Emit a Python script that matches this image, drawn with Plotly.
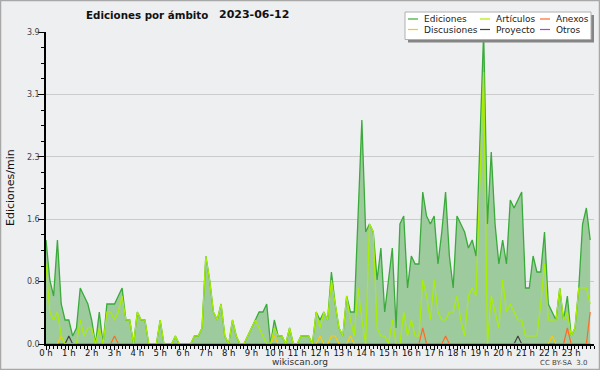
import plotly.graph_objects as go

# 10-minute bins over the day (minutes since 00:00)
minutes = list(range(0, 1440, 10))

hour_ticks = list(range(0, 1440, 60))
hour_labels = ["0 h", "1 h", "2 h", "3 h", "4 h", "5 h", "6 h", "7 h", "8 h", "9 h", "10 h", "11 h",
               "12 h", "13 h", "14 h", "15 h", "16 h", "17 h", "18 h", "19 h", "20 h", "21 h", "22 h", "23 h"]

y_ticks = [0, 0.78, 1.56, 2.34, 3.12, 3.9]
y_labels = ["0.0", "0.8", "1.6", "2.3", "3.1", "3.9"]

ediciones = [
    1.3, 0.8, 0.6, 1.3, 0.5, 0.3, 0.3, 0.1, 0.2, 0.7, 0.6, 0.5,
    0.3, 0.0, 0.4, 0.0, 0.5, 0.5, 0.5, 0.6, 0.7, 0.3, 0.3, 0.0,
    0.4, 0.3, 0.3, 0.0, 0.0, 0.0, 0.3, 0.0, 0.0, 0.0, 0.1, 0.0,
    0.0, 0.0, 0.0, 0.1, 0.1, 0.2, 1.1, 0.8, 0.4, 0.3, 0.5, 0.1,
    0.0, 0.3, 0.1, 0.0, 0.0, 0.1, 0.2, 0.3, 0.4, 0.4, 0.5, 0.0,
    0.3, 0.1, 0.1, 0.0, 0.2, 0.0, 0.0, 0.1, 0.1, 0.1, 0.0, 0.4,
    0.3, 0.4, 0.3, 0.9, 0.5, 0.2, 0.1, 0.6, 0.4, 0.4, 1.6, 2.8,
    1.4, 1.5, 1.4, 0.8, 1.2, 0.4, 0.8, 1.2, 0.2, 1.5, 1.6, 0.7,
    1.1, 1.0, 1.0, 1.9, 1.6, 1.5, 1.6, 1.0, 1.4, 1.9, 1.1, 0.7,
    1.6, 1.5, 1.4, 1.2, 1.3, 1.1, 2.5, 3.9, 1.5, 2.4, 1.5, 1.0,
    1.3, 1.0, 1.8, 1.7, 1.8, 1.9, 0.7, 0.7, 1.1, 0.9, 0.9, 1.4,
    0.5, 0.4, 0.3, 0.7, 0.3, 0.6, 0.1, 0.2, 0.7, 1.5, 1.7, 1.3,
]

articulos = [
    1.0, 0.4, 0.3, 0.4, 0.1, 0.0, 0.0, 0.0, 0.0, 0.3, 0.1, 0.2,
    0.2, 0.0, 0.2, 0.0, 0.4, 0.4, 0.3, 0.4, 0.6, 0.3, 0.3, 0.0,
    0.4, 0.3, 0.3, 0.0, 0.0, 0.0, 0.3, 0.0, 0.0, 0.0, 0.1, 0.0,
    0.0, 0.0, 0.0, 0.1, 0.1, 0.2, 1.1, 0.8, 0.4, 0.3, 0.5, 0.1,
    0.0, 0.3, 0.1, 0.0, 0.0, 0.1, 0.2, 0.3, 0.2, 0.1, 0.0, 0.0,
    0.2, 0.1, 0.1, 0.0, 0.2, 0.0, 0.0, 0.1, 0.1, 0.1, 0.0, 0.4,
    0.2, 0.4, 0.3, 0.8, 0.5, 0.2, 0.1, 0.6, 0.3, 0.1, 0.7, 0.3,
    0.0, 1.5, 1.4, 0.2, 0.1, 0.1, 0.0, 0.3, 0.0, 0.0, 0.4, 0.1,
    0.3, 0.1, 0.1, 0.8, 0.6, 0.3, 0.8, 0.4, 0.3, 0.3, 0.4, 0.4,
    0.6, 0.3, 0.1, 0.6, 0.7, 0.6, 2.0, 3.4, 0.0, 0.6, 0.4, 0.2,
    0.8, 0.4, 0.5, 0.4, 0.3, 0.3, 0.1, 0.1, 0.1, 0.1, 0.5, 1.0,
    0.3, 0.3, 0.3, 0.7, 0.3, 0.4, 0.1, 0.2, 0.7, 0.7, 0.7, 0.5,
]

# sparse series: all zero except the listed bins (index -> value)
discusiones_pts = {4: 0.1, 60: 0.1, 72: 0.1, 75: 0.1, 76: 0.1, 80: 0.1, 133: 0.1}
proyecto_pts = {6: 0.1, 124: 0.1}
anexos_pts = {18: 0.1, 99: 0.2, 105: 0.1, 137: 0.2, 143: 0.4}
otros_pts = {}

discusiones = [discusiones_pts.get(i, 0.0) for i in range(len(minutes))]
proyecto = [proyecto_pts.get(i, 0.0) for i in range(len(minutes))]
anexos = [anexos_pts.get(i, 0.0) for i in range(len(minutes))]
otros = [otros_pts.get(i, 0.0) for i in range(len(minutes))]

colors = {
    "Ediciones": "#3aaa3a",
    "Artículos": "#aaee00",
    "Anexos": "#ff6a2a",
    "Discusiones": "#ffc800",
    "Proyecto": "#444444",
    "Otros": "#9a4ae8",
}

BG = "#eeeff1"

fig = go.Figure()
fig.add_trace(go.Scatter(x=minutes, y=ediciones, mode="lines", fill="tozeroy",
                         fillcolor="#9ecb9e", line=dict(color=colors["Ediciones"], width=1.3),
                         name="Ediciones", showlegend=False))
for name, vals in [("Otros", otros), ("Proyecto", proyecto), ("Discusiones", discusiones),
                   ("Artículos", articulos), ("Anexos", anexos)]:
    fig.add_trace(go.Scatter(x=minutes, y=vals, mode="lines",
                             line=dict(color=colors[name], width=1.2),
                             name=name, showlegend=False))

# pixel -> paper helpers (plot area: x 46..594, y 32..344)
L, R, T, B = 46, 594, 32, 344
def px(x):
    return (x - L) / (R - L)
def py(y):
    return (B - y) / (B - T)

shapes = []
annotations = []

# outer frame
shapes.append(dict(type="rect", xref="paper", yref="paper",
                   x0=px(0.5), x1=px(599.5), y0=py(0.5), y1=py(369.5),
                   line=dict(color="#a8a8a8", width=1.5), fillcolor="rgba(0,0,0,0)", layer="above"))

# legend box with shadow
shapes.append(dict(type="rect", xref="paper", yref="paper", x0=px(408), x1=px(594), y0=py(15), y1=py(42.5),
                   line=dict(width=0), fillcolor="#858585", layer="above"))
shapes.append(dict(type="rect", xref="paper", yref="paper", x0=px(405), x1=px(591), y0=py(12), y1=py(39.5),
                   line=dict(color="#b0b0b0", width=1), fillcolor="#ffffff", layer="above"))

legend_layout = [
    ("Ediciones", 408, 19), ("Artículos", 480, 19), ("Anexos", 540, 19),
    ("Discusiones", 408, 29.5), ("Proyecto", 480, 29.5), ("Otros", 540, 29.5),
]
for name, lx, ly in legend_layout:
    shapes.append(dict(type="line", xref="paper", yref="paper", x0=px(lx), x1=px(lx + 10),
                       y0=py(ly), y1=py(ly), line=dict(color=colors[name], width=1.2), layer="above"))
    annotations.append(dict(text=name, xref="paper", yref="paper", x=px(lx + 14), y=py(ly),
                            xanchor="left", yanchor="middle", showarrow=False,
                            font=dict(family="DejaVu Sans", size=9, color="#222")))

# title
annotations.append(dict(text="<b>Ediciones por ámbito</b>", xref="paper", yref="paper", x=px(84), y=py(15),
                        xanchor="left", yanchor="middle", showarrow=False,
                        font=dict(family="DejaVu Sans", size=10.3, color="#111")))
annotations.append(dict(text="<b>2023-06-12</b>", xref="paper", yref="paper", x=px(217), y=py(15),
                        xanchor="left", yanchor="middle", showarrow=False,
                        font=dict(family="DejaVu Sans", size=11, color="#111")))
# y title
annotations.append(dict(text="Ediciones/min", xref="paper", yref="paper", x=px(10), y=py(188),
                        xanchor="center", yanchor="middle", textangle=-90, showarrow=False,
                        font=dict(family="DejaVu Sans", size=11, color="#111")))
# footer
annotations.append(dict(text="wikiscan.org", xref="paper", yref="paper", x=px(300), y=py(362),
                        xanchor="center", yanchor="middle", showarrow=False,
                        font=dict(family="DejaVu Sans", size=9, color="#333")))
annotations.append(dict(text="CC BY-SA  3.0", xref="paper", yref="paper", x=px(563), y=py(362.5),
                        xanchor="center", yanchor="middle", showarrow=False,
                        font=dict(family="DejaVu Sans", size=7, color="#444")))

fig.update_layout(
    width=600, height=370,
    margin=dict(l=L, r=600 - R, t=T, b=370 - B, pad=0),
    paper_bgcolor=BG, plot_bgcolor=BG,
    showlegend=False,
    font=dict(family="DejaVu Sans", size=9, color="#222"),
    shapes=shapes, annotations=annotations,
)
fig.update_xaxes(range=[0, 1440], tickmode="array", tickvals=hour_ticks, ticktext=hour_labels,
                 ticks="outside", ticklen=4, tickcolor="#000", tickwidth=1,
                 showline=True, linecolor="#000", linewidth=1.5, showgrid=False, zeroline=False,
                 ticklabelstandoff=-4,
                 minor=dict(tickmode="linear", tick0=0, dtick=10, ticks="outside", ticklen=3,
                            tickcolor="#000", tickwidth=1, showgrid=False),
                 tickfont=dict(family="DejaVu Sans", size=8.5, color="#111"))
fig.update_yaxes(range=[0, 3.9], tickmode="array", tickvals=y_ticks, ticktext=y_labels,
                 ticks="outside", ticklen=6, tickcolor="#000", tickwidth=1,
                 showline=True, linecolor="#000", linewidth=1.5,
                 showgrid=True, gridcolor="#cbcbcb", gridwidth=1, zeroline=False,
                 ticklabelstandoff=-3,
                 minor=dict(tickmode="linear", tick0=0, dtick=0.195, ticks="outside", ticklen=3,
                            tickcolor="#000", tickwidth=1, showgrid=False),
                 tickfont=dict(family="DejaVu Sans", size=8, color="#444"))

fig.write_html("out.html", config={"displayModeBar": False},
               post_script="document.body.style.margin='0px';")
